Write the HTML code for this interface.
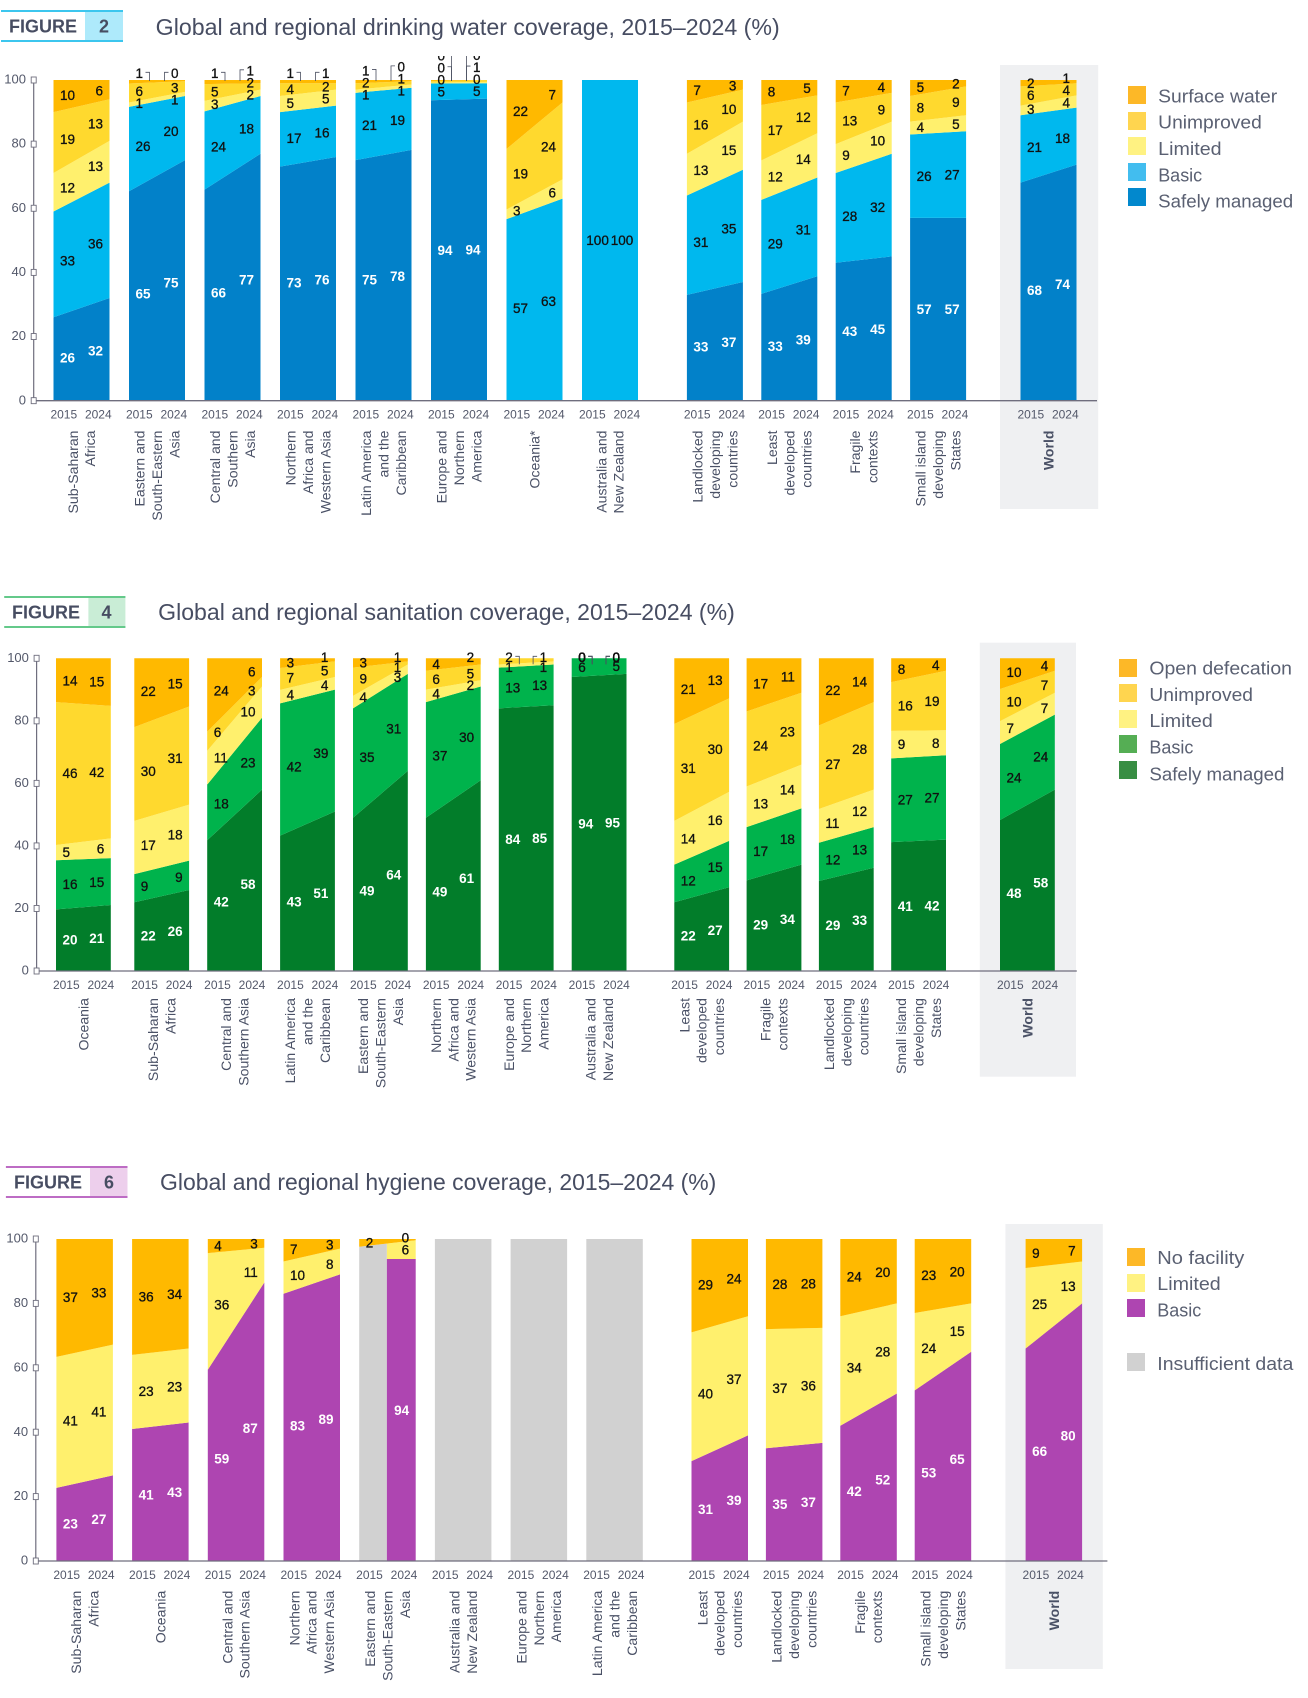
<!DOCTYPE html>
<html lang="en">
<head>
<meta charset="utf-8">
<title>Global and regional coverage, 2015–2024</title>
<style>
html,body{margin:0;padding:0;background:#fff;width:1308px;height:1698px;overflow:hidden}
svg{display:block}
text{font-family:"Liberation Sans",sans-serif}
.ttl{font-size:23px;fill:#474d62}
.fig{font-size:18px;font-weight:700;fill:#474d62}
.leg{font-size:18.5px;fill:#5a6072}
</style>
</head>
<body>
<svg id="root" xmlns="http://www.w3.org/2000/svg" width="1308" height="1698" viewBox="0 0 1308 1698">
  <defs>
    <clipPath id="clip-water"><rect x="0" y="56" width="1308" height="460"></rect></clipPath>
  </defs>

  <!-- Figure 2 header -->
  <g>
    <rect x="85" y="10" width="38" height="32" fill="#aeeafb"></rect>
    <rect x="1" y="10" width="122" height="2" fill="#3cc6ee"></rect>
    <rect x="1" y="40" width="122" height="2" fill="#3cc6ee"></rect>
    <text class="fig" x="9" y="32.7">FIGURE</text>
    <text class="fig" x="104" y="32.7" text-anchor="middle">2</text>
  </g>
  <text class="ttl" x="155.7" y="35" textLength="624" lengthAdjust="spacingAndGlyphs">Global and regional drinking water coverage, 2015–2024 (%)</text>
  <rect x="1000" y="65" width="98.2" height="444" fill="#eff0f2"></rect>
  <g id="chart-water"></g>
  <g>
    <rect x="1128" y="86" width="18" height="18" fill="#fdb827"></rect>
    <text class="leg" x="1158.2" y="102.3" textLength="119" lengthAdjust="spacingAndGlyphs">Surface water</text>
    <rect x="1128" y="112" width="18" height="18" fill="#ffd54f"></rect>
    <text class="leg" x="1158.2" y="128.3" textLength="103.6" lengthAdjust="spacingAndGlyphs">Unimproved</text>
    <rect x="1128" y="137" width="18" height="18" fill="#fff282"></rect>
    <text class="leg" x="1158.2" y="155" textLength="63.4" lengthAdjust="spacingAndGlyphs">Limited</text>
    <rect x="1128" y="163" width="18" height="18" fill="#42bdef"></rect>
    <text class="leg" x="1158.2" y="181.7" textLength="44" lengthAdjust="spacingAndGlyphs">Basic</text>
    <rect x="1128" y="188" width="18" height="18" fill="#0288cd"></rect>
    <text class="leg" x="1158.2" y="207.4" textLength="135" lengthAdjust="spacingAndGlyphs">Safely managed</text>
  </g>

  <!-- Figure 4 header -->
  <g>
    <rect x="88.4" y="596" width="37" height="32" fill="#c9edd6"></rect>
    <rect x="4.2" y="596" width="121.2" height="2" fill="#64c98a"></rect>
    <rect x="4.2" y="626" width="121.2" height="2" fill="#64c98a"></rect>
    <text class="fig" x="12" y="618.5">FIGURE</text>
    <text class="fig" x="106.5" y="618.5" text-anchor="middle">4</text>
  </g>
  <text class="ttl" x="158.2" y="620" textLength="576.6" lengthAdjust="spacingAndGlyphs">Global and regional sanitation coverage, 2015–2024 (%)</text>
  <rect x="979.8" y="642.7" width="96.2" height="434" fill="#eff0f2"></rect>
  <g id="chart-sanitation"></g>
  <g>
    <rect x="1119" y="659" width="18" height="18" fill="#fdb827"></rect>
    <text class="leg" x="1149.4" y="674.5" textLength="142.6" lengthAdjust="spacingAndGlyphs">Open defecation</text>
    <rect x="1119" y="684" width="18" height="18" fill="#ffd54f"></rect>
    <text class="leg" x="1149.4" y="701" textLength="103.6" lengthAdjust="spacingAndGlyphs">Unimproved</text>
    <rect x="1119" y="710" width="18" height="18" fill="#fff282"></rect>
    <text class="leg" x="1149.4" y="727" textLength="63.4" lengthAdjust="spacingAndGlyphs">Limited</text>
    <rect x="1119" y="735" width="18" height="18" fill="#55ae54"></rect>
    <text class="leg" x="1149.4" y="753.7" textLength="44" lengthAdjust="spacingAndGlyphs">Basic</text>
    <rect x="1119" y="761" width="18" height="18" fill="#388e43"></rect>
    <text class="leg" x="1149.4" y="780.5" textLength="135" lengthAdjust="spacingAndGlyphs">Safely managed</text>
  </g>

  <!-- Figure 6 header -->
  <g>
    <rect x="90" y="1166" width="37.5" height="32" fill="#edcfec"></rect>
    <rect x="5.9" y="1166" width="121.6" height="2" fill="#bd6cc4"></rect>
    <rect x="5.9" y="1196" width="121.6" height="2" fill="#bd6cc4"></rect>
    <text class="fig" x="14" y="1188.5">FIGURE</text>
    <text class="fig" x="109" y="1188.5" text-anchor="middle">6</text>
  </g>
  <text class="ttl" x="160" y="1190" textLength="556.3" lengthAdjust="spacingAndGlyphs">Global and regional hygiene coverage, 2015–2024 (%)</text>
  <rect x="1005.4" y="1224" width="97.4" height="445" fill="#eff0f2"></rect>
  <g id="chart-hygiene"></g>
  <g>
    <rect x="1127" y="1248" width="18" height="18" fill="#fdb827"></rect>
    <text class="leg" x="1157.3" y="1264" textLength="87" lengthAdjust="spacingAndGlyphs">No facility</text>
    <rect x="1127" y="1274" width="18" height="18" fill="#fff282"></rect>
    <text class="leg" x="1157.3" y="1290" textLength="63.4" lengthAdjust="spacingAndGlyphs">Limited</text>
    <rect x="1127" y="1299" width="18" height="18" fill="#ae45b1"></rect>
    <text class="leg" x="1157.3" y="1316.7" textLength="44" lengthAdjust="spacingAndGlyphs">Basic</text>
    <rect x="1127" y="1353" width="18" height="18" fill="#d1d1d1"></rect>
    <text class="leg" x="1157.3" y="1370" textLength="136" lengthAdjust="spacingAndGlyphs">Insufficient data</text>
  </g>
</svg>

<script>
/* ---------- shared data ---------- */
const yearLabels = ['2015', '2024'];
const tickValues = [0, 20, 40, 60, 80, 100];

/* ---------- Figure 2: drinking water ---------- */
const waterCategories = [
  ['Sub-Saharan','Africa'],['Eastern and','South-Eastern','Asia'],['Central and','Southern','Asia'],
  ['Northern','Africa and','Western Asia'],['Latin America','and the','Caribbean'],['Europe and','Northern','America'],
  ['Oceania*'],['Australia and','New Zealand'],
  ['Landlocked','developing','countries'],['Least','developed','countries'],['Fragile','contexts'],
  ['Small island','developing','States'],['World']
];
const waterSeries = ['Safely managed','Basic','Limited','Unimproved','Surface water'];
const water2015 = [
  [26,33,12,19,10],[65.3,26.3,1.4,5.9,1.1],[65.8,24.4,3.3,5.2,1.3],[73,17,5,4,1],[75,21,1,2,1],
  [93.7,5.2,0.3,0.4,0.4],[null,56.6,3,18.9,21.5],[null,100,null,null,null],
  [33,31,13,16,7],[33.3,29.3,12.3,17.3,7.8],[43,28,9,13,7],[57,26,4,8,5],[68,21,3,6,2]
];
const water2024 = [
  [32,36,13,13,6],[75,20,1.3,3.3,0.4],[77,18,2,2,1],[76,16,5,2,1],[78.2,19.4,1,1,0.4],
  [94.2,4.8,0.4,0.6,0],[null,63,6,24,7],[null,100,null,null,null],
  [37,35,15,10,3],[38.8,30.8,13.8,11.8,4.8],[45,32,10,9,4],[57,27,5,9,2],[73.6,17.8,3.8,3.8,1]
];

/* ---------- Figure 4: sanitation ---------- */
const sanitationCategories = [
  ['Oceania'],['Sub-Saharan','Africa'],['Central and','Southern Asia'],['Latin America','and the','Caribbean'],
  ['Eastern and','South-Eastern','Asia'],['Northern','Africa and','Western Asia'],['Europe and','Northern','America'],
  ['Australia and','New Zealand'],
  ['Least','developed','countries'],['Fragile','contexts'],['Landlocked','developing','countries'],
  ['Small island','developing','States'],['World']
];
const sanitationSeries = ['Safely managed','Basic','Limited','Unimproved','Open defecation'];
const sanitation2015 = [
  [19.7,15.7,4.9,45.7,14],[22,9,17,30,22],[41.8,17.8,10.8,6.1,23.5],[43.3,42.3,4.3,7,3.1],
  [49,35,4,9,3],[49,37,4,6,4],[84,13,1,2,null],[94,6,0,0,0],
  [22,12,14,31,21],[29,17,13,24,17],[28.8,12.2,10.8,26.7,21.5],[41.2,26.8,8.8,15.6,7.6],[48.3,24.3,7.3,10.3,9.8]
];
const sanitation2024 = [
  [21.1,15,6.3,42.4,15.2],[25.9,9.4,17.9,31.4,15.4],[58,23,10,3,6],[51,39,4,5,1],
  [64,31,3,1,1],[61,30,2,5,2],[85,13,1,1,null],[95,5,0,0,0],
  [26.8,14.8,15.7,29.9,12.8],[34,18,14,23,11],[33,13,12,28,14],[42,27,8,19,4],[58,24,7,7,4]
];

/* ---------- Figure 6: hygiene ---------- */
const hygieneCategories = [
  ['Sub-Saharan','Africa'],['Oceania'],['Central and','Southern Asia'],['Northern','Africa and','Western Asia'],
  ['Eastern and','South-Eastern','Asia'],['Australia and','New Zealand'],['Europe and','Northern','America'],
  ['Latin America','and the','Caribbean'],
  ['Least','developed','countries'],['Landlocked','developing','countries'],['Fragile','contexts'],
  ['Small island','developing','States'],['World']
];
const hygieneSeries = ['Basic','Limited','No facility'];
const hygiene2015 = [
  [22.7,40.7,36.6],[41,23,36],[59.4,36.2,4.4],[83,10,7],[null,null,2.4],
  [null,null,null],[null,null,null],[null,null,null],
  [31,40,29],[35,37,28],[42,34,24],[53,24,23],[66,25,9]
];
const hygiene2024 = [
  [26.6,40.6,32.8],[43,23,34],[86.5,10.8,2.7],[89,8,3],[93.8,5.8,0.4],
  [null,null,null],[null,null,null],[null,null,null],
  [39,37,24],[36.7,35.7,27.6],[52,28,20],[65,15,20],[80,13,7]
];

const NS = 'http://www.w3.org/2000/svg';
const INSUFFICIENT = '#d1d1d1';

function mk(parent, tag, attrs, txt) {
  const el = document.createElementNS(NS, tag);
  for (const k in attrs) el.setAttribute(k, attrs[k]);
  if (txt !== undefined) el.textContent = txt;
  parent.appendChild(el);
  return el;
}
function slug(s) { return s.toLowerCase().replace(/[^a-z0-9]+/g, '-').replace(/^-|-$/g, ''); }

function drawChart(cfg) {
  const root = document.getElementById(cfg.id);
  const yScale = v => cfg.y0 - (v / 100) * (cfg.y0 - cfg.y100);
  const xStarts = [];
  cfg.sections.forEach(s => { for (let i = 0; i < s.count; i++) xStarts.push(s.start + i * s.step); });
  const xScale = i => xStarts[i];
  const bw = cfg.barW;
  const yTop = yScale(100);

  const barsLayer = mk(root, 'g', {});
  
  

  const labelLayer = mk(root, 'g', cfg.clip ? { 'clip-path': 'url(#' + cfg.clip + ')' } : {});
  
  

  cfg.categories.forEach((lines, g) => {
    const x0 = xScale(g), x1 = x0 + bw;
    const a = cfg.start[g], b = cfg.end[g];
    const catName = slug(lines.join(' '));
    const empty15 = a.slice(0, a.length - 1).every(v => v === null) && a[a.length - 1] !== null;
    const allNull = a.every(v => v === null) && b.every(v => v === null);

    const group = mk(barsLayer, 'g', {});
    
    

    if (allNull) {
      const r = mk(group, 'rect', { x: x0, y: yTop, width: bw, height: yScale(0) - yTop, fill: INSUFFICIENT });
      
      
    } else if (empty15) {
      /* first year has no breakdown: grey left half, stepped right half */
      const t = 0.49, xm = x0 + bw * t;
      const n = b.length;
      const topA = 100 - a[n - 1];
      const sumB = b.slice(0, n - 1).reduce((s, v) => s + v, 0);
      const lineAt = f => topA + (sumB - topA) * f;
      const grey = mk(group, 'polygon', {
        points: [[x0, yScale(0)], [xm, yScale(0)], [xm, yScale(lineAt(t))], [x0, yScale(topA)]].map(p => p.join(',')).join(' '),
        fill: INSUFFICIENT });
      
      
      let c = 0;
      for (let s = 0; s < n - 1; s++) {
        const isLast = s === n - 2;
        const top = c + b[s];
        const pts = [[xm, yScale(c)], [x1, yScale(c)], [x1, yScale(isLast ? sumB : top)], [xm, yScale(isLast ? lineAt(t) : top)]];
        const p = mk(group, 'polygon', { points: pts.map(q => q.join(',')).join(' '), fill: cfg.colors[s] });
        
        
        c = top;
      }
      const cap = mk(group, 'polygon', {
        points: [[x0, yScale(topA)], [x1, yScale(sumB)], [x1, yScale(sumB + b[n - 1])], [x0, yScale(topA + a[n - 1])]].map(p => p.join(',')).join(' '),
        fill: cfg.colors[n - 1] });
      
      
    } else {
      let ca = 0, cb = 0;
      cfg.series.forEach((name, s) => {
        const va = a[s], vb = b[s];
        if (va === null && vb === null) return;
        const na = ca + (va || 0), nb = cb + (vb || 0);
        const pts = [[x0, yScale(ca)], [x1, yScale(cb)], [x1, yScale(nb)], [x0, yScale(na)]];
        const p = mk(group, 'polygon', { points: pts.map(q => q.join(',')).join(' '), fill: cfg.colors[s] });
        
        
        ca = na; cb = nb;
      });
    }

    /* value labels */
    if (!allNull) {
      [a, b].forEach((vals, yi) => {
        const items = [];
        const lerpT = yi === 0 ? 0.15 : 0.85;
        const partial = empty15;
        let own = partial && yi === 0 ? 100 - vals[vals.length - 1] : 0;
        let otherA = 0, otherB = 0;
        vals.forEach((v, s) => {
          const va = a[s] || 0, vb = b[s] || 0;
          if (v !== null) {
            let mid;
            if (partial) {
              mid = own + v / 2;
            } else {
              const lo = otherA + (otherB - otherA) * lerpT;
              const hi = (otherA + va) + ((otherB + vb) - (otherA + va)) * lerpT;
              mid = (lo + hi) / 2;
            }
            items.push({ s: s, v: v, mid: mid, y: yScale(mid) });
            own += v;
          }
          otherA += va; otherB += vb;
        });
        const isWorld = lines[0] === 'World';
        const wantLeader = cfg.leaderFor(lines[0], items);
        if (cfg.cascade === 'up') {
          for (let i = 0; i < items.length; i++) {
            const it = items[i];
            if (i < items.length - 1 && it.v >= 0.5 && it.v < 2 && it.mid > 95) it.y += 4;
            if (i > 0 && it.y > items[i - 1].y - cfg.gap) it.y = items[i - 1].y - cfg.gap;
          }
          const last = items[items.length - 1];
          if (wantLeader) {
            if (last.v <= 1.5 && last.y > yTop - 6.7) last.y = yTop - 6.7;
          } else if (last.y < yTop - 2.5) {
            last.y = yTop - 2.5;
          }
        } else {
          let prevY = null;
          for (let i = items.length - 1; i >= 0; i--) {
            const it = items[i];
            if (Math.round(it.v) === 0) { it.y = yTop - 1; continue; }
            if (i === items.length - 1 && it.v <= 2.1) it.y = yTop - 1;
            if (prevY !== null && it.y < prevY + cfg.gap) it.y = prevY + cfg.gap;
            prevY = it.y;
          }
        }
        items.forEach(it => {
          const white = it.s === cfg.whiteSeries;
          const big = Math.round(it.v) >= 100;
          const lx = yi === 0 ? x0 + (big ? 4.3 : 6.5) : x1 - (big ? 4.7 : 6.5);
          const attrs = {
            x: lx, y: it.y + 4.8, 'font-size': 13.5,
            'text-anchor': yi === 0 ? 'start' : 'end',
            fill: white ? '#ffffff' : '#111111',
            'font-weight': white ? 700 : 400
          };
          if (!white) { attrs.stroke = '#111111'; attrs['stroke-width'] = 0.3; }
          const t = mk(labelLayer, 'text', attrs, String(Math.round(it.v)));
          
          
          if (wantLeader && !isWorld && it.y < yTop + 0.5 - cfg.leaderMin) {
            const lxa = yi === 0 ? x0 + 16.5 : x1 - 16.5;
            const lxb = yi === 0 ? x0 + 20.5 : x1 - 20.5;
            const d = 'M' + lxa + ' ' + (it.y - 1) + 'H' + lxb + 'V' + (yTop + cfg.leaderDrop);
            const lead = mk(labelLayer, 'path', { d: d, fill: 'none', stroke: '#4a4f60', 'stroke-width': 0.8 });
            
            
          }
        });
      });
    }

    /* year labels */
    yearLabels.forEach((yr, yi) => {
      const t = mk(root, 'text', {
        x: yi === 0 ? x0 + 10.3 : x0 + 44.8, y: cfg.y0 + 17.8, 'text-anchor': 'middle', 'font-size': 12, fill: '#53586a'
      }, yr);
      
      
    });

    /* rotated category label */
    const cx = x0 + bw / 2;
    lines.forEach((ln, j) => {
      const lineX = cx + (j - (lines.length - 1) / 2) * 17.4 + 5;
      const world = ln === 'World';
      const t = mk(root, 'text', {
        x: lineX, y: cfg.catTop, 'text-anchor': 'end', 'font-size': 14.1,
        'font-weight': world ? 700 : 400, fill: '#4a5166',
        transform: 'rotate(-90 ' + lineX + ' ' + cfg.catTop + ')'
      }, ln);
      
      
    });
  });

  /* axes */
  const vAxis = mk(root, 'line', { x1: cfg.axisX, x2: cfg.axisX, y1: yTop, y2: cfg.y0, stroke: '#6f6e7e', 'stroke-width': 1.2 });
  
  
  const hAxis = mk(root, 'line', { x1: cfg.axisX, x2: cfg.axisEnd, y1: cfg.y0, y2: cfg.y0, stroke: '#6f6e7e', 'stroke-width': 1.3 });
  
  

  tickValues.forEach(v => {
    const y = yScale(v);
    const mark = mk(root, 'rect', { x: cfg.axisX - 2.5, y: y - 3, width: 5, height: 6, fill: '#ffffff', stroke: '#6f6e7e', 'stroke-width': 0.9 });
    
    
    const t = mk(root, 'text', { x: cfg.axisX - 7.7, y: y + 3.6, 'text-anchor': 'end', 'font-size': 13, fill: '#53586a' }, String(v));
    
    
  });
}

drawChart({
  id: 'chart-water', categories: waterCategories, series: waterSeries, start: water2015, end: water2024,
  colors: ['#0281c9', '#00b8ee', '#fff06d', '#ffd92e', '#ffb900'], whiteSeries: 0,
  y0: 400.67, y100: 80, axisX: 33.7, axisEnd: 1097, barW: 56, catTop: 430.5,
  sections: [{ start: 53.5, step: 75.5, count: 8 }, { start: 686.9, step: 74.4, count: 4 }, { start: 1020.5, step: 0, count: 1 }],
  cascade: 'up', gap: 12, clip: 'clip-water', leaderMin: 4, leaderDrop: 1,
  leaderFor: (name, items) => name !== 'World' && items.length > 0 && items[items.length - 1].v <= 1.5
});

drawChart({
  id: 'chart-sanitation', categories: sanitationCategories, series: sanitationSeries, start: sanitation2015, end: sanitation2024,
  colors: ['#027d2a', '#00b34c', '#fff06d', '#ffd92e', '#ffb900'], whiteSeries: 0,
  y0: 971, y100: 658.3, axisX: 36.6, axisEnd: 1076.8, barW: 54.8, catTop: 998,
  sections: [{ start: 56, step: 0, count: 1 }, { start: 134.3, step: 72.9, count: 7 }, { start: 674.3, step: 72.3, count: 4 }, { start: 1000, step: 0, count: 1 }],
  cascade: 'down', gap: 10, leaderMin: -0.5, leaderDrop: 6,
  leaderFor: name => name === 'Europe and' || name === 'Australia and'
});

drawChart({
  id: 'chart-hygiene', categories: hygieneCategories, series: hygieneSeries, start: hygiene2015, end: hygiene2024,
  colors: ['#ae45b1', '#fff06d', '#ffb900'], whiteSeries: 0,
  y0: 1561, y100: 1239, axisX: 35.8, axisEnd: 1107.4, barW: 56.5, catTop: 1590.7,
  sections: [{ start: 56.4, step: 75.7, count: 8 }, { start: 691.5, step: 74.4, count: 4 }, { start: 1025.6, step: 0, count: 1 }],
  cascade: 'up', gap: 12, leaderMin: 100, leaderDrop: 0,
  leaderFor: () => false
});
</script>
</body>
</html>
